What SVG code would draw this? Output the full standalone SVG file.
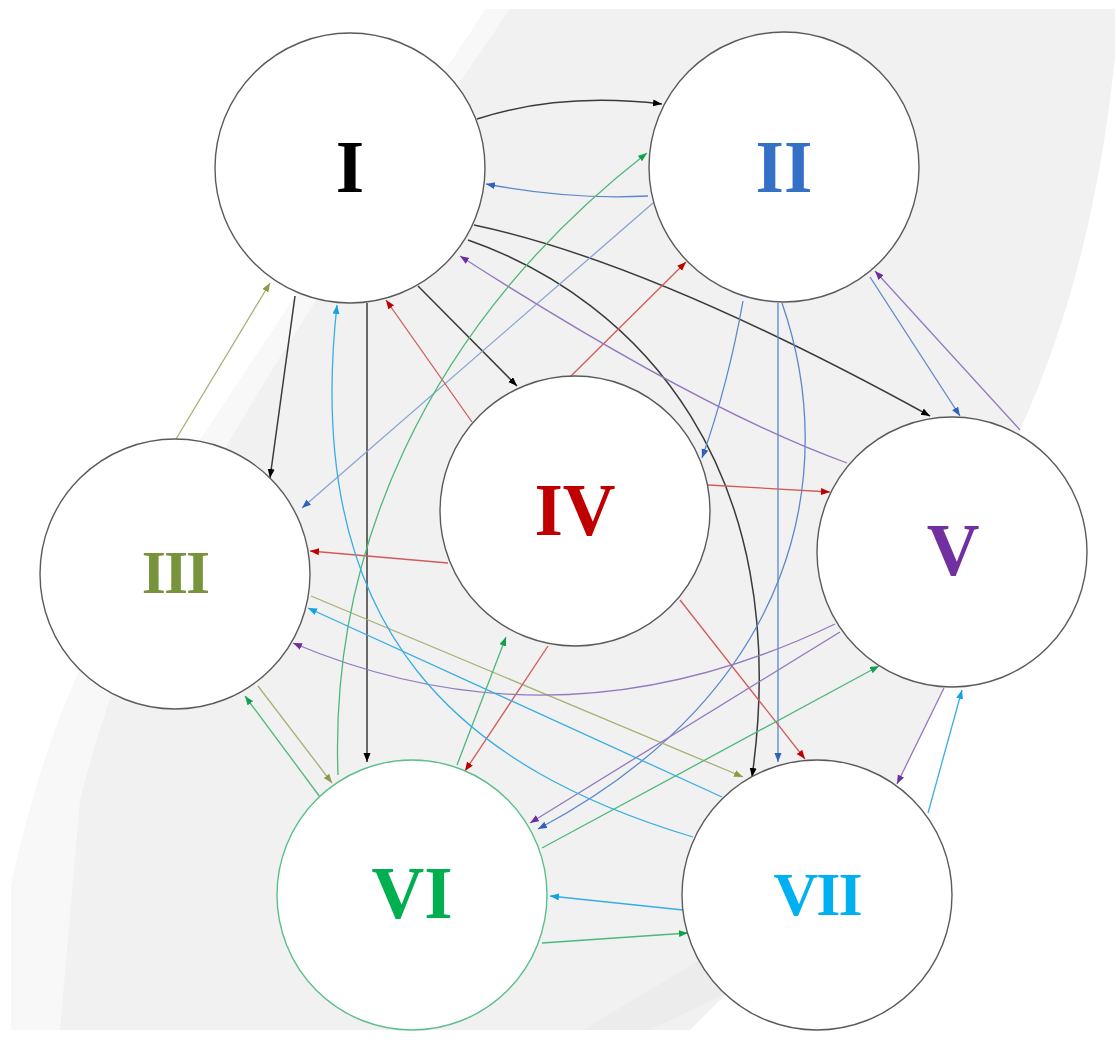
<svg xmlns="http://www.w3.org/2000/svg" width="1116" height="1052" viewBox="0 0 1116 1052">
  <style>
    .node { fill: #ffffff; stroke: #5a5a5a; stroke-width: 1.4; }
    .lbl { font-family: "Liberation Serif", "Times New Roman", serif; font-weight: bold; text-anchor: middle; }
    .big { font-size: 73px; }
    .small { font-size: 62px; }
    .c { fill: none; stroke-width: 1.3; }
    .k { stroke: #3a3a3a; stroke-width: 1.5; marker-end: url(#mk); }
    .b { stroke: #5b88cc; marker-end: url(#mb); }
    .o { stroke: #a8b074; marker-end: url(#mo); }
    .r { stroke: #d25a5a; marker-end: url(#mr); }
    .p { stroke: #9478bf; marker-end: url(#mp); }
    .g { stroke: #4db87c; marker-end: url(#mg); }
    .y { stroke: #38ade4; marker-end: url(#my); }
  </style>
  <defs>
    <marker id="mk" markerUnits="userSpaceOnUse" markerWidth="10" markerHeight="8" refX="9" refY="3.5" orient="auto"><path d="M0,0 L9,3.5 L0,7 Z" fill="#000000"/></marker>
    <marker id="mb" markerUnits="userSpaceOnUse" markerWidth="10" markerHeight="8" refX="9" refY="3.5" orient="auto"><path d="M0,0 L9,3.5 L0,7 Z" fill="#2e62be"/></marker>
    <marker id="mo" markerUnits="userSpaceOnUse" markerWidth="10" markerHeight="8" refX="9" refY="3.5" orient="auto"><path d="M0,0 L9,3.5 L0,7 Z" fill="#8a9a48"/></marker>
    <marker id="mr" markerUnits="userSpaceOnUse" markerWidth="10" markerHeight="8" refX="9" refY="3.5" orient="auto"><path d="M0,0 L9,3.5 L0,7 Z" fill="#c00000"/></marker>
    <marker id="mp" markerUnits="userSpaceOnUse" markerWidth="10" markerHeight="8" refX="9" refY="3.5" orient="auto"><path d="M0,0 L9,3.5 L0,7 Z" fill="#6a2fa0"/></marker>
    <marker id="mg" markerUnits="userSpaceOnUse" markerWidth="10" markerHeight="8" refX="9" refY="3.5" orient="auto"><path d="M0,0 L9,3.5 L0,7 Z" fill="#12a04e"/></marker>
    <marker id="my" markerUnits="userSpaceOnUse" markerWidth="10" markerHeight="8" refX="9" refY="3.5" orient="auto"><path d="M0,0 L9,3.5 L0,7 Z" fill="#12a2e2"/></marker>
  </defs>

  <g id="background">
    <rect x="0" y="0" width="1116" height="1052" fill="#ffffff"/>
    <path d="M486,9 L1115,9 L1115,57 C1100,200 1070,320 1020,430 C990,520 960,620 945,686 L897,785 C850,860 780,930 727,993 L690,1030 L11,1030 L11,886 C30,800 50,740 71,690 C110,600 140,540 200,440 Z" fill="#f1f1f1"/>
    <path d="M486,9 L510,9 C420,140 300,320 230,440 C160,560 110,680 80,800 L60,1030 L11,1030 L11,886 C30,800 50,740 71,690 C110,600 140,540 200,440 Z" fill="#f8f8f8"/>
    <path d="M583,1030 L650,1030 L727,993 L700,960 Z" fill="#ececec"/>
  </g>

  <g id="connectors">
    <!-- from I -->
    <path class="c k" d="M477,119 Q560,92 662,104"/>
    <path class="c k" d="M295,296 L270,478"/>
    <path class="c k" d="M367,303 L367,762"/>
    <path class="c k" d="M418,286 L517,386"/>
    <path class="c k" d="M474,225 Q650,262 930,416"/>
    <path class="c k" d="M468,240 C640,300 795,470 752,777"/>
    <!-- from II -->
    <path class="c b" d="M648,196 Q570,200 486,184"/>
    <path class="c b" d="M653,203 L302,508" style="stroke:#8aa2d2"/>
    <path class="c b" d="M743,301 Q728,385 702,458"/>
    <path class="c b" d="M778,303 L778,762"/>
    <path class="c b" d="M782,303 C840,470 800,690 538,829"/>
    <path class="c b" d="M870,277 L960,416"/>
    <!-- from III -->
    <path class="c o" d="M176,439 L270,283"/>
    <path class="c o" d="M258,686 L332,783"/>
    <path class="c o" d="M311,596 L743,777"/>
    <!-- from IV -->
    <path class="c r" d="M472,422 L386,300"/>
    <path class="c r" d="M570,377 L686,262"/>
    <path class="c r" d="M448,563 L310,551"/>
    <path class="c r" d="M708,485 L830,492"/>
    <path class="c r" d="M548,646 L465,771"/>
    <path class="c r" d="M680,600 L805,759"/>
    <!-- from V -->
    <path class="c p" d="M847,463 Q700,410 460,256"/>
    <path class="c p" d="M1020,430 L875,271"/>
    <path class="c p" d="M835,624 Q560,756 293,643"/>
    <path class="c p" d="M840,632 L530,823"/>
    <path class="c p" d="M944,688 L897,784"/>
    <!-- from VI -->
    <path class="c g" d="M338,775 C330,560 420,330 647,153"/>
    <path class="c g" d="M320,797 L245,696"/>
    <path class="c g" d="M457,765 L506,637"/>
    <path class="c g" d="M542,848 L879,666"/>
    <path class="c g" d="M542,943 L688,933"/>
    <!-- from VII -->
    <path class="c y" d="M693,837 C470,770 300,640 337,305"/>
    <path class="c y" d="M722,797 L308,608"/>
    <path class="c y" d="M928,813 L962,690"/>
    <path class="c y" d="M683,910 L550,896"/>
  </g>

  <g id="node-I">
    <circle class="node" cx="350" cy="168" r="135"/>
    <text class="lbl big" x="350" y="192" fill="#000000">I</text>
  </g>
  <g id="node-II">
    <circle class="node" cx="784" cy="167" r="135"/>
    <text class="lbl big" x="784" y="192" fill="#3370c6">II</text>
  </g>
  <g id="node-III">
    <circle class="node" cx="175" cy="574" r="135"/>
    <text class="lbl small" x="175" y="593" fill="#77933c" letter-spacing="-2">III</text>
  </g>
  <g id="node-IV">
    <circle class="node" cx="575" cy="511" r="135"/>
    <text class="lbl big" x="575" y="535" fill="#c00000">IV</text>
  </g>
  <g id="node-V">
    <circle class="node" cx="952" cy="552" r="135"/>
    <text class="lbl big" x="953" y="575" fill="#7030a0">V</text>
  </g>
  <g id="node-VI">
    <circle class="node" cx="412" cy="895" r="135" style="stroke:#5cbf8a"/>
    <text class="lbl big" x="412" y="918" fill="#00b050">VI</text>
  </g>
  <g id="node-VII">
    <circle class="node" cx="817" cy="895" r="135"/>
    <text class="lbl small" x="817" y="915" fill="#00b0f0" letter-spacing="-2">VII</text>
  </g>
</svg>
